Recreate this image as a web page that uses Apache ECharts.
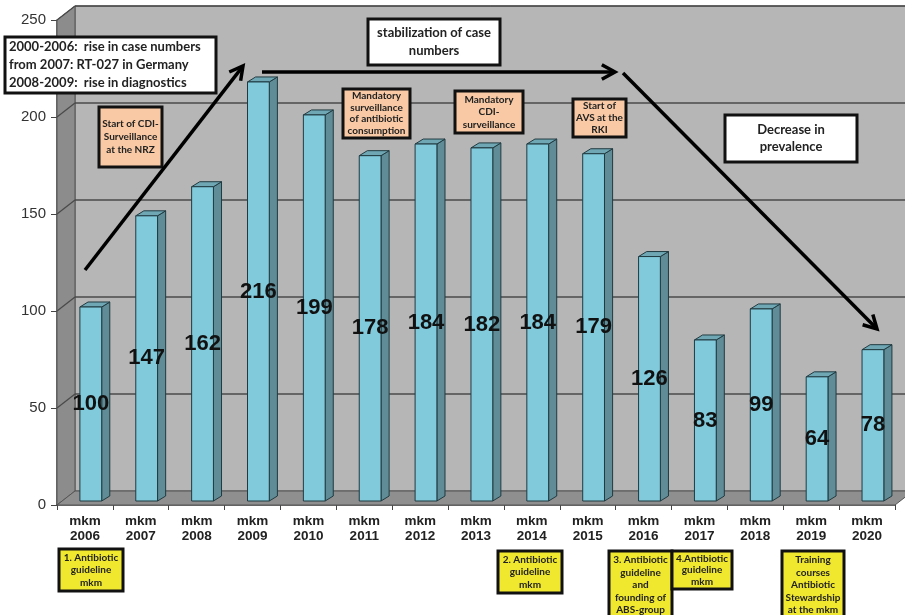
<!DOCTYPE html>
<html><head><meta charset="utf-8">
<script src="https://cdn.jsdelivr.net/npm/echarts@6/dist/echarts.min.js"></script>
<style>html,body{margin:0;padding:0;background:#fff}#c{width:905px;height:615px}</style>
</head><body><div id="c"></div>
<script>
const categories = ['mkm\n2006','mkm\n2007','mkm\n2008','mkm\n2009','mkm\n2010','mkm\n2011','mkm\n2012','mkm\n2013','mkm\n2014','mkm\n2015','mkm\n2016','mkm\n2017','mkm\n2018','mkm\n2019','mkm\n2020'];
const values = [100,147,162,216,199,178,184,182,184,179,126,83,99,64,78];
const yTicks = [0,50,100,150,200,250];

const noteTopLeft = '2000-2006:  rise in case numbers\nfrom 2007: RT-027 in Germany\n2008-2009:  rise in diagnostics';
const noteStable = 'stabilization of case\nnumbers';
const noteDecrease = 'Decrease in\nprevalence';
const noteNRZ = 'Start of CDI-\nSurveillance\nat the NRZ';
const noteAbxCons = 'Mandatory\nsurveillance\nof antibiotic\nconsumption';
const noteCDI = 'Mandatory\nCDI-\nsurveillance';
const noteAVS = 'Start of\nAVS at the\nRKI';
const noteG1 = '1. Antibiotic\nguideline\nmkm';
const noteG2 = '2. Antibiotic\nguideline\nmkm';
const noteG3 = '3. Antibiotic\nguideline\nand\nfounding of\nABS-group';
const noteG4 = '4.Antibiotic\nguideline\nmkm';
const noteTrain = 'Training\ncourses\nAntibiotic\nStewardship\nat the mkm';

const FONT = '"Liberation Sans", Arial, sans-serif';
const NFONT = 'Lato, "Open Sans", sans-serif';
const DX = 18, DY = 14;

function box(x, y, w, h, fill, text, fs, lh, align) {
  const left = align === 'left';
  return {
    type: 'group',
    children: [
      { type: 'rect', z: 100, shape: { x: x, y: y, width: w, height: h }, style: { fill: fill, stroke: '#111', lineWidth: 3 } },
      { type: 'text', z: 101, style: { text: text, x: left ? x + 4 : x + w / 2, y: y + h / 2, textAlign: left ? 'left' : 'center', textVerticalAlign: 'middle', font: 'bold ' + fs + 'px ' + NFONT, lineHeight: lh, fill: '#222' } }
    ]
  };
}
function arrow(x1, y1, x2, y2) {
  const a = Math.atan2(y2 - y1, x2 - x1), L = 15, s = 0.5;
  return {
    type: 'group',
    children: [
      { type: 'line', z: 110, shape: { x1: x1, y1: y1, x2: x2 - Math.cos(a) * 2, y2: y2 - Math.sin(a) * 2 }, style: { stroke: '#000', lineWidth: 3.5 } },
      { type: 'polyline', z: 110, shape: { points: [[x2 - L * Math.cos(a - s), y2 - L * Math.sin(a - s)], [x2, y2], [x2 - L * Math.cos(a + s), y2 - L * Math.sin(a + s)]] }, style: { stroke: '#000', lineWidth: 3.5, fill: null } }
    ]
  };
}

const chart = echarts.init(document.getElementById('c'));
chart.setOption({
  animation: false,
  backgroundColor: '#fff',
  grid: { left: 57, right: 10, top: 20, bottom: 110, containLabel: false },
  xAxis: {
    type: 'category', data: categories,
    axisLine: { lineStyle: { color: '#444', width: 1.5 } },
    axisTick: { show: true, length: 5, lineStyle: { color: '#444' } },
    axisLabel: { fontFamily: FONT, fontWeight: 'bold', fontSize: 13.5, color: '#222', lineHeight: 15, margin: 9 }
  },
  yAxis: {
    type: 'value', min: 0, max: 250, interval: 50,
    axisLine: { show: true, lineStyle: { color: '#444', width: 1.5 } },
    axisTick: { show: true, length: 6, lineStyle: { color: '#444' } },
    axisLabel: { fontFamily: FONT, fontSize: 15, color: '#333', margin: 11 },
    splitLine: { show: false }
  },
  series: [
    {
      type: 'custom', z: 1, silent: true, data: [[0, 0]],
      renderItem: function (params, api) {
        const cs = params.coordSys;
        const x = cs.x, y = cs.y, w = cs.width, h = cs.height;
        const ch = [
          { type: 'rect', shape: { x: x + DX, y: y - DY, width: w, height: h }, style: { fill: '#b6b6b6', stroke: '#555', lineWidth: 1 } },
          { type: 'polygon', shape: { points: [[x, y], [x + DX, y - DY], [x + DX, y + h - DY], [x, y + h]] }, style: { fill: '#8c8c8c', stroke: '#555', lineWidth: 1 } },
          { type: 'polygon', shape: { points: [[x, y + h], [x + DX, y + h - DY], [x + w + DX, y + h - DY], [x + w, y + h]] }, style: { fill: '#8f8f8f', stroke: '#555', lineWidth: 1 } }
        ];
        yTicks.forEach(function (v) {
          if (v === 0) return;
          const yy = api.coord([0, v])[1];
          ch.push({ type: 'line', shape: { x1: x + DX, y1: yy - DY, x2: x + w + DX, y2: yy - DY }, style: { stroke: '#4a4a4a', lineWidth: 1.3 } });
          ch.push({ type: 'line', shape: { x1: x, y1: yy, x2: x + DX, y2: yy - DY }, style: { stroke: '#4a4a4a', lineWidth: 1.3 } });
        });
        return { type: 'group', children: ch };
      }
    },
    {
      type: 'custom', z: 5, data: values.map(function (v, i) { return [i, v]; }),
      renderItem: function (params, api) {
        const i = api.value(0), v = api.value(1);
        const bw = api.size([1, 0])[0];
        const p0 = api.coord([i, 0]), p1 = api.coord([i, v]);
        const xl = p0[0] - bw * 0.09, fw = bw * 0.39, xr = xl + fw;
        const base = p0[1] - 4, top = p1[1] - 4;
        const dx = bw * 0.145, dy = 5;
        const st = { stroke: '#203a40', lineWidth: 1 };
        return {
          type: 'group',
          children: [
            { type: 'polygon', shape: { points: [[xr, top], [xr + dx, top - dy], [xr + dx, base - dy], [xr, base]] }, style: Object.assign({ fill: '#5f8c97' }, st) },
            { type: 'polygon', shape: { points: [[xl, top], [xl + dx, top - dy], [xr + dx, top - dy], [xr, top]] }, style: Object.assign({ fill: '#6fa7b4' }, st) },
            { type: 'rect', shape: { x: xl, y: top, width: fw, height: base - top }, style: Object.assign({ fill: '#80cadb' }, st) },
            { type: 'text', z2: 10, style: { text: String(v), x: xl + fw / 2, y: (top + base) / 2, textAlign: 'center', textVerticalAlign: 'middle', font: 'bold 22px ' + FONT, fill: '#111' } }
          ]
        };
      }
    }
  ],
  graphic: [
    box(5, 37, 211, 56, '#fff', noteTopLeft, 13, 18, 'left'),
    box(368, 19, 132, 46, '#fff', noteStable, 13, 18),
    box(725, 115, 132, 47, '#fff', noteDecrease, 13, 17),
    box(99, 107, 63, 60, '#f8c9a4', noteNRZ, 10, 13),
    box(343, 89, 67, 49, '#f8c9a4', noteAbxCons, 10, 11.5),
    box(455, 91, 68, 42, '#f8c9a4', noteCDI, 10, 12.5),
    box(573, 99, 53, 38, '#f8c9a4', noteAVS, 10, 12),
    box(59, 549, 64, 42, '#f0e82e', noteG1, 10, 12.5),
    box(498, 551, 64, 42, '#f0e82e', noteG2, 10, 12.5),
    box(609, 551, 63, 68, '#f0e82e', noteG3, 10, 12.5),
    box(672, 551, 60, 38, '#f0e82e', noteG4, 10, 11.5),
    box(782, 551, 62, 68, '#f0e82e', noteTrain, 10, 12.5),
    arrow(85, 270, 243, 66),
    arrow(262, 72, 615, 72),
    arrow(623, 73, 877, 329)
  ]
});
</script></body></html>
